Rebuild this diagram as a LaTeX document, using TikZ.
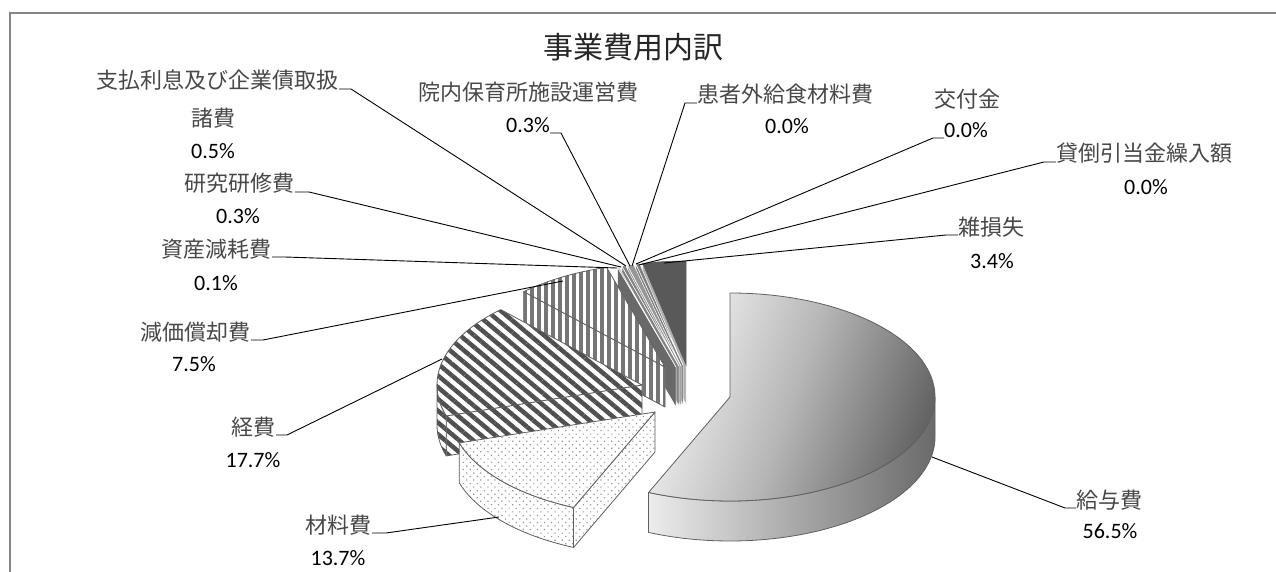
\documentclass[tikz,border=0pt]{standalone}
\usepackage{fontspec}
\setmainfont{Carlito}
\newfontfamily\jpfont{Noto Sans CJK JP}
\usetikzlibrary{patterns.meta}
\definecolor{framec}{RGB}{134,134,134}
\definecolor{edgec}{RGB}{96,96,96}
\definecolor{salA}{RGB}{244,244,244}
\definecolor{salB}{RGB}{182,182,182}
\definecolor{salC}{RGB}{100,100,100}
\definecolor{walA}{RGB}{236,236,236}
\definecolor{walB}{RGB}{170,170,170}
\definecolor{walC}{RGB}{106,106,106}
\definecolor{dotc}{RGB}{150,150,150}
\definecolor{diagc}{RGB}{80,80,80}
\definecolor{vertc}{RGB}{118,118,118}
\definecolor{assetc}{RGB}{105,105,105}
\definecolor{researchc}{RGB}{130,130,130}
\definecolor{interestc}{RGB}{150,150,150}
\definecolor{nurseryc}{RGB}{125,125,125}
\definecolor{lossc}{RGB}{89,89,89}
\definecolor{losswallc}{RGB}{175,175,175}
\definecolor{jptext}{RGB}{72,72,72}
% slice helpers: centre x, centre y, angles
\newcommand\slTop[5]{\path[#1] (#2,#3) -- ++(#4:205 and 104) arc[start angle=#4, end angle=#5, x radius=205, y radius=104] -- cycle;}
\newcommand\slWall[4]{\path[#1] (#2,#3) -- ++(#4:205 and 104) -- ++(0,-40) -- (#2,#3-40) -- cycle;}
\newcommand\slOuter[5]{\path[#1] ([shift={(#2,#3)}]#4:205 and 104) arc[start angle=#4, end angle=#5, x radius=205, y radius=104] -- ++(0,-40) arc[start angle=#5, end angle=#4, x radius=205, y radius=104] -- cycle;}
\tikzset{
  jplabel/.style={font=\jpfont\fontsize{22}{26}\selectfont, text=jptext, inner sep=0pt},
  pctlabel/.style={font=\fontsize{22}{26}\selectfont, text=black, inner sep=0pt},
  leader/.style={draw=black, line width=0.9pt},
  edged/.style={draw=edgec, line width=0.8pt, line join=round},
  salaryTop/.style={edged, left color=salA, right color=salC, middle color=salB, shading angle=70},
  salaryWall/.style={edged, left color=walA, right color=walC, middle color=walB},
  dotted fill/.style={edged, preaction={fill=white}, pattern={Dots[angle=45, distance=5pt, radius=0.85pt]}, pattern color=dotc},
  diag fill/.style={edged, preaction={fill=white}, pattern={Lines[angle=-40, distance=9pt, line width=4.5pt]}, pattern color=diagc},
  vert fill/.style={edged, preaction={fill=white}, pattern={Lines[angle=90, distance=7pt, line width=3.5pt]}, pattern color=vertc},
  sliver/.style={draw=white, line width=0.5pt, line join=round},
}
\begin{document}
\begin{tikzpicture}[x=1pt,y=1pt]
\useasboundingbox (0,0) rectangle (1276,-572);
\fill[white] (0,0) rectangle (1276,-572);
% frame
\draw[framec, line width=1.6pt] (10,-572) -- (10,-13) -- (1276,-13);

% ---- small slices (back to front) ----
% 雑損失
\slWall{sliver, fill=losswallc}{686}{-365}{102.24}
\slTop{fill=lossc, draw=lossc, line width=0.5pt}{686}{-365}{102.24}{90}
% 院内保育所施設運営費
\slWall{sliver, fill=nurseryc}{683}{-365}{103.32}
\slTop{sliver, fill=nurseryc}{683}{-365}{103.32}{102.24}
% 支払利息及び企業債取扱諸費
\slWall{sliver, fill=interestc}{681}{-366}{105.12}
\slTop{sliver, fill=interestc}{681}{-366}{105.12}{103.32}
% 研究研修費
\slWall{sliver, fill=researchc}{679}{-366}{106.2}
\slTop{sliver, fill=researchc}{679}{-366}{106.2}{105.12}
% 資産減耗費
\slWall{sliver, fill=assetc}{676}{-367}{106.56}
\slTop{sliver, fill=assetc}{676}{-367}{106.56}{106.2}

% ---- 減価償却費 ----
\slWall{vert fill}{665}{-367}{133.56}
\slTop{vert fill}{665}{-367}{106.56}{133.56}

% ---- 経費 ----
\slWall{diag fill}{642}{-385}{-162.72}
\slOuter{diag fill}{642}{-385}{180}{197.28}
\slTop{diag fill}{642}{-385}{133.56}{197.28}

% ---- 材料費 ----
\slWall{dotted fill}{655}{-412}{-113.4}
\slOuter{dotted fill}{655}{-412}{-162.72}{-113.4}
\slTop{dotted fill}{655}{-412}{-113.4}{-162.72}

% ---- 給与費 ----
\slOuter{salaryWall}{730}{-397}{-113.4}{0}
\slTop{salaryTop}{730}{-397}{90}{-113.4}

% ---- title ----
\node[font=\jpfont\fontsize{30}{36}\selectfont, text=black!85, inner sep=0pt, anchor=base] (title) at (633,-59) {事業費用内訳};

% ---- labels ----
\node[jplabel, anchor=base east] (n1) at (339,-89) {支払利息及び企業債取扱};
\node[jplabel, anchor=base] (n2) at (213,-127) {諸費};
\node[pctlabel, anchor=base] (n3) at (213,-159) {0.5\%};
\node[jplabel, anchor=base east] (n4) at (295,-192) {研究研修費};
\node[pctlabel, anchor=base] (n5) at (238,-223) {0.3\%};
\node[jplabel, anchor=base east] (n6) at (272,-257) {資産減耗費};
\node[pctlabel, anchor=base] (n7) at (216,-290) {0.1\%};
\node[jplabel, anchor=base east] (n8) at (251,-340) {減価償却費};
\node[pctlabel, anchor=base] (n9) at (194,-371) {7.5\%};
\node[jplabel, anchor=base east] (n10) at (276,-435) {経費};
\node[pctlabel, anchor=base] (n11) at (253,-467) {17.7\%};
\node[jplabel, anchor=base east] (n12) at (372,-533) {材料費};
\node[pctlabel, anchor=base] (n13) at (338,-565) {13.7\%};
\node[jplabel, anchor=base] (n14) at (528,-101) {院内保育所施設運営費};
\node[pctlabel, anchor=base east] (n15) at (550,-133) {0.3\%};
\node[jplabel, anchor=base west] (n16) at (697,-103) {患者外給食材料費};
\node[pctlabel, anchor=base] (n17) at (787,-134) {0.0\%};
\node[jplabel, anchor=base] (n18) at (967,-108) {交付金};
\node[pctlabel, anchor=base west] (n19) at (944,-138) {0.0\%};
\node[jplabel, anchor=base west] (n20) at (1056,-162) {貸倒引当金繰入額};
\node[pctlabel, anchor=base] (n21) at (1146,-194) {0.0\%};
\node[jplabel, anchor=base west] (n22) at (958,-235) {雑損失};
\node[pctlabel, anchor=base] (n23) at (992,-268) {3.4\%};
\node[jplabel, anchor=base west] (n24) at (1076,-508) {給与費};
\node[pctlabel, anchor=base] (n25) at (1110,-538) {56.5\%};

% ---- leader targets on the slices ----
\coordinate (t1) at (626,-266);
\coordinate (t4) at (621,-267);
\coordinate (t6) at (617,-268);
\coordinate (t8) at (563,-281);
\coordinate (t10) at (442,-359);
\coordinate (t12) at (499,-517);
\coordinate (t15) at (630,-266);
\coordinate (t16) at (632,-266);
\coordinate (t19) at (636,-264);
\coordinate (t20) at (639,-265);
\coordinate (t22) at (664,-263);
\coordinate (t24) at (932,-457);

% ---- leaders ----
\draw[leader] (n1.base east) -- ++(12,0) -- (t1);
\draw[leader] (n4.base east) -- ++(14,0) -- (t4);
\draw[leader] (n6.base east) -- ++(13,0) -- (t6);
\draw[leader] (n8.base east) -- ++(12,0) -- (t8);
\draw[leader] (n10.base east) -- ++(11,0) -- (t10);
\draw[leader] (n12.base east) -- ++(14,0) -- (t12);
\draw[leader] (n15.base east) -- ++(11,0) -- (t15);
\draw[leader] (n16.base west) -- ++(-12,0) -- (t16);
\draw[leader] (n19.base west) -- ++(-11,0) -- (t19);
\draw[leader] (n20.base west) -- ++(-12,0) -- (t20);
\draw[leader] (n22.base west) -- ++(-12,0) -- (t22);
\draw[leader] (n24.base west) -- ++(-11,0) -- (t24);
\end{tikzpicture}
\end{document}
